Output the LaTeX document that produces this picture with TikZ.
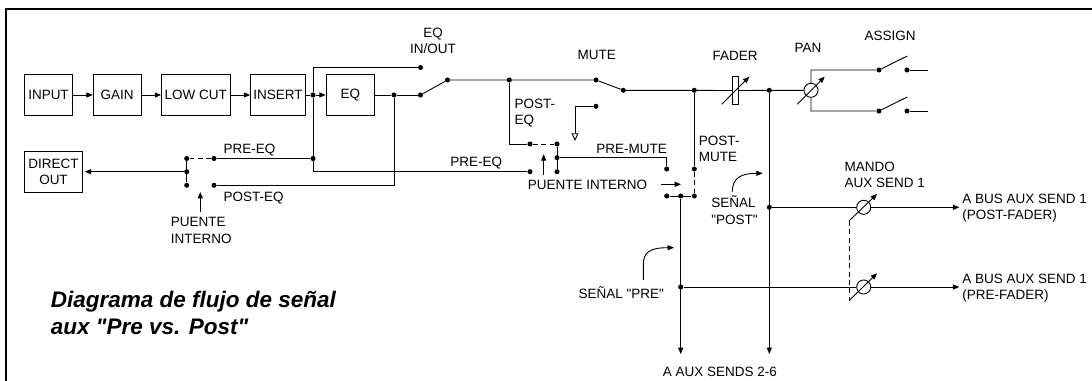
\documentclass[tikz,border=0pt]{standalone}
\usepackage{fontspec}
\setmainfont[Ligatures=TeXOff]{Liberation Sans}
\usetikzlibrary{arrows.meta}

\tikzset{
	wire/.style={line width=0.65pt},
	tipwire/.style={wire, -{Triangle[length=4.5pt, width=3.6pt]}},
	jumper/.style={wire, dash pattern=on 3.5pt off 2.5pt},
	dot/.style={circle, fill=black, inner sep=0pt, minimum size=3.6pt},
	blockbox/.style={draw, line width=0.5pt, inner sep=0pt, minimum height=29.5pt, align=center, font=\fontsize{9.6}{11.7}\selectfont},
	pot/.style={draw, circle, line width=0.65pt, inner sep=0pt, minimum size=10pt},
	lbl/.style={inner sep=0pt, anchor=west, align=left, font=\fontsize{9.6}{11.7}\selectfont},
}

\begin{document}
\begin{tikzpicture}[x=0.25mm, y=-0.25mm]
	\useasboundingbox (0,0) rectangle (1092,381);
	\draw[line width=1.5pt] (1092,9) -- (6,9) -- (6,381);

	% Blocks:
	\node[blockbox, minimum width=34pt] (input) at (48.5,95) {INPUT};
	\node[blockbox, minimum width=34pt] (gain) at (117,95) {GAIN};
	\node[blockbox, minimum width=48.7pt] (lowcut) at (195.7,95) {LOW CUT};
	\node[blockbox, minimum width=39pt] (insert) at (278,95) {INSERT};
	\node[blockbox, minimum width=34.5pt] (eq) at (350.3,95) {EQ};
	\node[blockbox, minimum width=41.2pt] (direct) at (53.5,172) {DIRECT\\OUT};
	\node[draw, line width=0.5pt, inner sep=0pt, minimum width=4.3pt, minimum height=19.6pt] (fader) at (735.7,90.5) {};
	\node[pot] (pan) at (811,90.3) {};
	\node[pot] (mandopost) at (863.7,207.3) {};
	\node[pot] (mandopre) at (863.7,287) {};

	% Junctions and contacts:
	\foreach \name/\pos in {
		eqin/{(313,95)}, eqthru/{(420.5,67.5)}, eqout/{(394,95)}, eqsw/{(420.5,95)},
		eqcom/{(447.5,80)}, posteqtap/{(509.3,80)}, mutea/{(596,80)}, muteb/{(623.3,90.3)},
		postmutetap/{(694.3,90.3)}, pantap/{(769.3,90.3)},
		preeqtap/{(313,158.5)}, dirpre/{(214,158.5)}, dirpost/{(214,185.3)},
		dirtop/{(186.7,158.5)}, dirmid/{(186.7,171.7)}, dirbot/{(186.7,185.3)},
		mutetop/{(530,144)}, mutebot/{(530,171.7)}, jumptop/{(557,144)}, jumpmid/{(557,157.7)}, jumpbot/{(557,171.7)},
		openpin/{(596,106.3)}, premutepin/{(666.7,169)}, postmutepin/{(694.3,169)},
		auxa/{(666.7,196)}, auxb/{(680.7,196)}, auxc/{(694.3,196)},
		posttap/{(769.3,207.3)}, pretap/{(680.7,287)},
		asgna/{(879,70)}, asgnb/{(907,70)}, asgnc/{(879,111)}, asgnd/{(907,111)}}
		\node[dot] (\name) at \pos {};

	% Free ends:
	\coordinate (lowpre) at (313,171.7);
	\coordinate (postcorner) at (509.3,144);
	\coordinate (auxleft) at (680.7,354);
	\coordinate (auxright) at (769.3,354);
	\coordinate (buspost) at (959.3,207.3);
	\coordinate (buspre) at (959.3,287);
	\coordinate (asgnlo) at (907.3,97);
	\coordinate (asgnhi) at (907.3,56);
	\coordinate (asgnout) at (928,70);
	\coordinate (asgnoutb) at (928,111);

	% Paths and wires:
	\draw[tipwire] (input) -- (gain);
	\draw[tipwire] (gain) -- (lowcut);
	\draw[tipwire] (lowcut) -- (insert);
	\draw[wire] (insert) -- (eqin);
	\draw[tipwire] (eqin) -- (eq);
	\draw[wire] (eqin) |- (eqthru);
	\draw[wire] (eqin) -- (lowpre) -- (mutebot);
	\draw[wire] (eq) -- (eqout) -- (eqsw);
	\draw[wire] (eqout) |- (dirpost);
	\draw[wire] (eqsw) -- (eqcom) -- (mutea);
	\draw[wire] (mutea) -- (muteb) -- (fader);
	\draw[wire] (fader) -- (pan);
	\draw[wire] (preeqtap) -- (dirpre);
	\draw[jumper] (dirpre) -- (dirtop);
	\draw[wire] (dirtop) -- (dirbot);
	\draw[tipwire, shorten >=1.5pt] (dirmid) -- (direct.east |- dirmid);
	\draw[wire] (posteqtap) -- (postcorner) -- (mutetop);
	\draw[jumper] (mutetop) -- (jumptop);
	\draw[wire] (jumptop) -- (jumpbot);
	\draw[wire] (jumpmid) -| (premutepin);
	\draw[wire] (postmutetap) -- (postmutepin);
	\draw[jumper] (postmutepin) -- (auxc);
	\draw[wire] (auxa) -- (auxc);
	\draw[tipwire] (auxb) -- (auxleft);
	\draw[tipwire] (pantap) -- (auxright);
	\draw[wire] (posttap) -- (mandopost);
	\draw[tipwire] (mandopost) -- (buspost);
	\draw[wire] (pretap) -- (mandopre);
	\draw[tipwire] (mandopre) -- (buspre);
	\draw[wire] (pan.north) |- (asgna) -- (asgnhi);
	\draw[wire] (pan.south) |- (asgnc) -- (asgnlo);
	\draw[wire] (asgnb) -- (asgnout);
	\draw[wire] (asgnd) -- (asgnoutb);
	\draw[wire, -{Triangle[open, length=5.5pt, width=5pt]}] (openpin) -| (575,141);

	% Gang arrows:
	\draw[tipwire] (721.7,104.3) -- (749.3,76.7);
	\draw[tipwire] (797.3,104.3) -- (824.7,76.7);
	\draw[tipwire] (849,221) -- (877,194);
	\draw[tipwire] (849,300.7) -- (877,273.3);
	\draw[jumper] (849,221) -- (849,300.7);

	% Pointers:
	\draw[tipwire] (200.3,212) -- (200.3,192);
	\draw[tipwire] (543.7,175) -- (543.7,154.3);
	\draw[tipwire] (661,184.3) -- (681,184.3);
	\draw[tipwire] (732.3,191.7) .. controls (732.3,178) and (741,173.3) .. (762.7,173.3);
	\draw[tipwire] (643.3,280) -- (643.3,265) .. controls (643.3,252) and (650,247.7) .. (674,247.7);

	% Labels:
	\node[lbl, align=center, anchor=center] (eqlabel) at (433,41) {EQ\\IN/OUT};
	\node[lbl, anchor=center] (mutelabel) at (596.7,55) {MUTE};
	\node[lbl, anchor=center] (faderlabel) at (735,56) {FADER};
	\node[lbl, anchor=center] (panlabel) at (808,48.3) {PAN};
	\node[lbl, anchor=center] (assignlabel) at (890,36) {ASSIGN};
	\node[lbl] (posteqa) at (514.3,113.3) {POST-\\EQ};
	\node[lbl] (premute) at (596,149.3) {PRE-MUTE};
	\node[lbl] (preeqb) at (450,163) {PRE-EQ};
	\node[lbl] (preeqa) at (223.3,149.7) {PRE-EQ};
	\node[lbl] (posteqb) at (223.3,198) {POST-EQ};
	\node[lbl] (puentea) at (170.7,230.5) {PUENTE\\INTERNO};
	\node[lbl] (puenteb) at (527.7,185) {PUENTE INTERNO};
	\node[lbl] (postmute) at (698.7,149) {POST-\\MUTE};
	\node[lbl] (senalpost) at (711,210.3) {SEÑAL\\"POST"};
	\node[lbl] (senalpre) at (578.3,292.3) {SEÑAL "PRE"};
	\node[lbl] (mando) at (844.3,174.6) {MANDO\\AUX SEND 1};
	\node[lbl] (auxsends) at (662.7,371.7) {A AUX SENDS 2-6};
	\node[lbl] (busposttext) at (962,208.3) {A BUS AUX SEND 1\\(POST-FADER)};
	\node[lbl] (buspretext) at (962,288.3) {A BUS AUX SEND 1\\(PRE-FADER)};
	\node[lbl, font=\fontsize{16}{19.5}\selectfont\bfseries\itshape] (title) at (50.7,313) {Diagrama de flujo de señal\\aux "Pre vs. Post"};
\end{tikzpicture}
\end{document}
